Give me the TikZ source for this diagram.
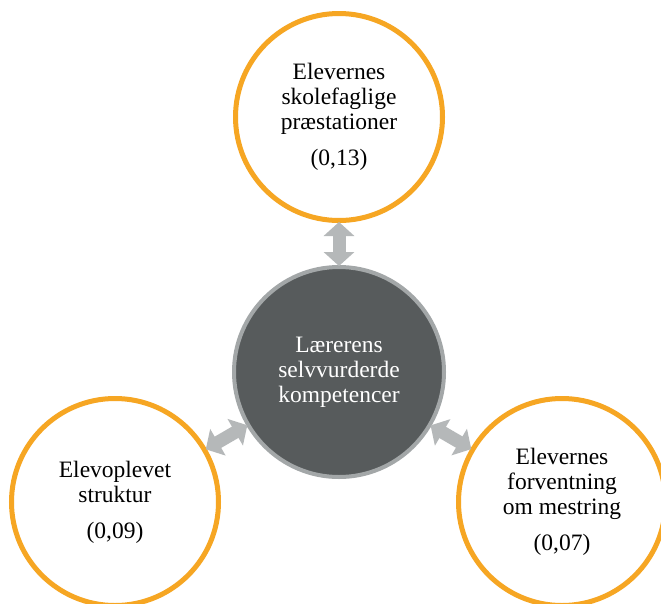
\documentclass[tikz,border=0pt]{standalone}
\usepackage{fontspec}
\setmainfont{Liberation Serif}
\usetikzlibrary{arrows.meta}
\definecolor{ringorange}{RGB}{246,166,35}
\definecolor{coredark}{RGB}{87,91,92}
\definecolor{coreborder}{RGB}{163,167,168}
\definecolor{arrowgray}{RGB}{181,184,185}
\begin{document}
\begin{tikzpicture}[x=1pt,y=-1pt,
  txt/.style={font=\fontsize{23.5}{25}\selectfont, align=center},
  outer/.style={circle, draw=ringorange, line width=5pt, fill=white, minimum size=207pt, inner sep=0pt, txt},
  core/.style={circle, draw=coreborder, line width=4pt, fill=coredark, minimum size=210pt, inner sep=0pt, txt, text=white},
  link/.style={draw=arrowgray, line width=13pt, {Triangle[width=30pt,length=14pt]}-{Triangle[width=30pt,length=14pt]}, shorten <=-1pt, shorten >=-1pt}
]
\useasboundingbox (0,0) rectangle (661,603);
\fill[white] (0,0) rectangle (661,603);
\node[outer] (top) at (339,117) {Elevernes\\skolefaglige\\præstationer\\[11pt](0,13)};
\node[core] (mid) at (339,372) {Lærerens\\selvvurderde\\kompetencer};
\node[outer] (left) at (115,502) {Elevoplevet\\struktur\\[11pt](0,09)};
\node[outer] (right) at (562,502) {Elevernes\\forventning\\om mestring\\[11pt](0,07)};
\draw[link] (top) -- (mid);
\draw[link] (left) -- (mid);
\draw[link] (right) -- (mid);
\end{tikzpicture}
\end{document}
